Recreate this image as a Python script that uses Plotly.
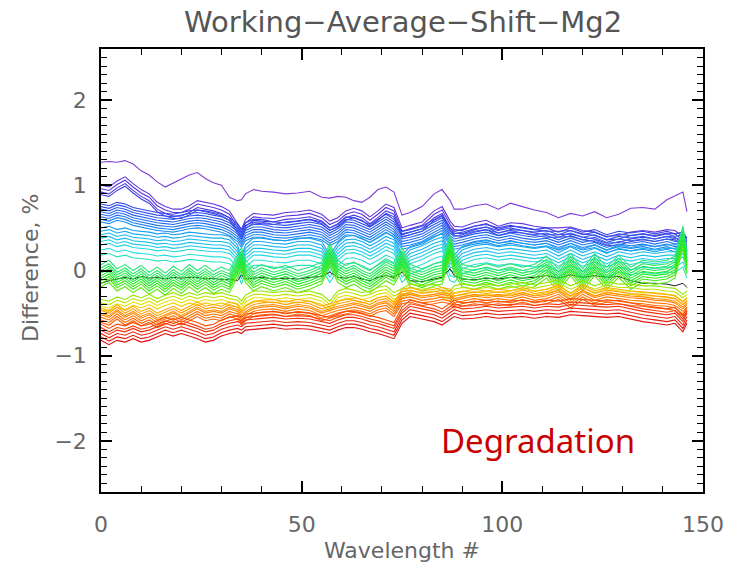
import numpy as np
import plotly.graph_objects as go
from plotly.colors import sample_colorscale

# ---- data ----
WAVE = [0, 2, 4, 6, 8, 10, 12, 14, 16, 18, 20, 22, 24, 26, 28, 30, 32, 34, 35, 36, 38, 40, 43, 46, 49,
        52, 55, 57, 59, 61, 63, 65, 67, 69, 71, 73, 75, 77, 80, 83, 85, 87, 88, 90, 93, 96, 99, 102, 105,
        108, 111, 114, 117, 120, 123, 126, 129, 132, 135, 138, 141, 143, 145, 146]

TOP = [1.27, 1.28, 1.27, 1.29, 1.25, 1.17, 1.12, 1.04, 0.98, 1.03, 1.08, 1.12, 1.15, 1.08, 1.03, 1.00,
       0.86, 0.82, 0.83, 0.90, 0.95, 0.93, 0.92, 0.90, 0.91, 0.93, 0.86, 0.85, 0.87, 0.86, 0.82, 0.80,
       0.86, 0.95, 0.98, 0.92, 0.65, 0.68, 0.75, 0.90, 0.95, 0.82, 0.72, 0.72, 0.76, 0.78, 0.72, 0.79,
       0.75, 0.71, 0.68, 0.62, 0.67, 0.64, 0.69, 0.62, 0.66, 0.73, 0.74, 0.72, 0.83, 0.88, 0.92, 0.69]

DPURPLE = [1.00, 0.98, 1.05, 1.10, 1.02, 0.95, 0.90, 0.80, 0.75, 0.72, 0.72, 0.76, 0.82, 0.80, 0.78, 0.75,
           0.70, 0.55, 0.48, 0.60, 0.67, 0.66, 0.65, 0.68, 0.69, 0.71, 0.66, 0.58, 0.62, 0.70, 0.73, 0.70,
           0.63, 0.70, 0.78, 0.74, 0.50, 0.53, 0.57, 0.70, 0.75, 0.58, 0.52, 0.51, 0.56, 0.59, 0.52, 0.56,
           0.55, 0.52, 0.50, 0.50, 0.51, 0.47, 0.45, 0.40, 0.41, 0.45, 0.47, 0.45, 0.48, 0.47, 0.40, 0.38]

BLUE = [0.68, 0.66, 0.70, 0.68, 0.64, 0.62, 0.60, 0.58, 0.57, 0.56, 0.58, 0.60, 0.61, 0.60, 0.58, 0.56,
        0.52, 0.45, 0.38, 0.46, 0.50, 0.50, 0.47, 0.46, 0.48, 0.50, 0.47, 0.40, 0.45, 0.53, 0.52, 0.48,
        0.44, 0.50, 0.56, 0.50, 0.36, 0.38, 0.42, 0.50, 0.55, 0.40, 0.36, 0.38, 0.42, 0.44, 0.40, 0.43,
        0.40, 0.38, 0.40, 0.35, 0.40, 0.35, 0.38, 0.32, 0.36, 0.34, 0.36, 0.33, 0.36, 0.33, 0.35, 0.28]

CYAN = [0.42, 0.44, 0.40, 0.42, 0.39, 0.38, 0.37, 0.35, 0.36, 0.34, 0.35, 0.37, 0.36, 0.35, 0.34, 0.34,
        0.32, 0.22, 0.08, 0.22, 0.30, 0.30, 0.28, 0.27, 0.30, 0.30, 0.26, 0.10, 0.24, 0.32, 0.33, 0.30,
        0.25, 0.30, 0.36, 0.32, 0.10, 0.20, 0.25, 0.32, 0.35, 0.12, 0.10, 0.20, 0.25, 0.27, 0.24, 0.26,
        0.24, 0.22, 0.24, 0.17, 0.24, 0.17, 0.22, 0.16, 0.22, 0.19, 0.22, 0.20, 0.22, 0.22, 0.28, 0.15]

GREEN = [-0.05, 0.00, -0.10, -0.05, -0.12, -0.06, -0.14, -0.08, -0.15, -0.07, -0.13, -0.05, -0.12, -0.06,
         -0.13, -0.08, -0.12, 0.05, 0.15, 0.00, -0.10, -0.05, -0.10, -0.06, -0.12, -0.08, -0.02, 0.20,
         0.00, -0.06, -0.02, -0.08, -0.12, -0.05, 0.02, -0.03, 0.15, -0.05, -0.10, -0.04, -0.02, 0.30,
         0.10, -0.05, -0.08, -0.04, -0.08, -0.04, -0.08, -0.05, 0.05, -0.10, 0.08, -0.10, 0.08, -0.08,
         0.06, -0.08, 0.00, -0.02, 0.00, 0.05, 0.40, 0.10]

YELLOW = [-0.38, -0.40, -0.35, -0.38, -0.33, -0.36, -0.32, -0.37, -0.33, -0.30, -0.34, -0.30, -0.33, -0.30,
          -0.32, -0.30, -0.33, -0.35, -0.40, -0.33, -0.28, -0.28, -0.30, -0.28, -0.30, -0.28, -0.32, -0.40,
          -0.28, -0.25, -0.27, -0.30, -0.28, -0.24, -0.22, -0.30, -0.25, -0.20, -0.22, -0.20, -0.24, -0.28,
          -0.22, -0.20, -0.22, -0.20, -0.22, -0.20, -0.18, -0.21, -0.18, -0.15, -0.22, -0.16, -0.22, -0.17,
          -0.20, -0.20, -0.22, -0.22, -0.24, -0.25, -0.32, -0.28]

ORANGE = [-0.52, -0.55, -0.48, -0.55, -0.50, -0.56, -0.52, -0.58, -0.54, -0.50, -0.55, -0.50, -0.45, -0.50,
          -0.48, -0.50, -0.45, -0.48, -0.55, -0.50, -0.45, -0.43, -0.42, -0.45, -0.42, -0.44, -0.50, -0.47,
          -0.44, -0.42, -0.40, -0.42, -0.45, -0.40, -0.38, -0.45, -0.30, -0.28, -0.32, -0.30, -0.28, -0.30,
          -0.35, -0.33, -0.30, -0.32, -0.30, -0.32, -0.28, -0.32, -0.30, -0.25, -0.35, -0.25, -0.32, -0.28,
          -0.30, -0.32, -0.33, -0.35, -0.36, -0.38, -0.45, -0.40]

RED = [-0.70, -0.75, -0.70, -0.72, -0.68, -0.72, -0.70, -0.66, -0.62, -0.65, -0.62, -0.65, -0.68, -0.72,
       -0.70, -0.65, -0.62, -0.60, -0.62, -0.58, -0.57, -0.56, -0.55, -0.57, -0.56, -0.57, -0.60, -0.62,
       -0.58, -0.55, -0.55, -0.57, -0.60, -0.62, -0.65, -0.68, -0.50, -0.42, -0.45, -0.48, -0.52, -0.45,
       -0.42, -0.45, -0.44, -0.42, -0.44, -0.43, -0.42, -0.44, -0.42, -0.43, -0.40, -0.41, -0.42, -0.43,
       -0.42, -0.45, -0.48, -0.50, -0.52, -0.50, -0.60, -0.50]

BLACK = [-0.15, -0.12, -0.10, -0.08, -0.10, -0.07, -0.09, -0.08, -0.10, -0.08, -0.09, -0.08, -0.08, -0.10,
         -0.09, -0.11, -0.10, -0.12, -0.05, -0.10, -0.09, -0.08, -0.10, -0.09, -0.10, -0.08, -0.07, -0.02,
         -0.08, -0.09, -0.07, -0.10, -0.12, -0.08, -0.06, -0.08, -0.02, -0.12, -0.13, -0.10, -0.08, 0.02,
         -0.06, -0.10, -0.11, -0.09, -0.10, -0.08, -0.09, -0.08, -0.06, -0.09, -0.05, -0.08, -0.06, -0.08,
         -0.07, -0.12, -0.15, -0.15, -0.16, -0.18, -0.15, -0.20]

# per-line shifts of each family of curves
TOP_OFF = [0.0]
DPURPLE_OFF = [0.0, -0.04, -0.08, -0.11]
BLUE_OFF = [0.10, 0.07, 0.04, 0.01, -0.02, -0.05, -0.08, -0.11]
CYAN_OFF = [0.08, 0.04, 0.0, -0.04, -0.08, -0.12, -0.18, -0.24]
GREEN_OFF = [0.12, 0.08, 0.05, 0.02, -0.01, -0.04, -0.07, -0.10, -0.14]
YELLOW_OFF = [0.04, 0.0, -0.04, -0.08]
ORANGE_OFF = [0.08, 0.05, 0.02, 0.0, -0.03, -0.06, -0.09]
RED_OFF = [0.07, 0.03, 0.0, -0.04, -0.08, -0.12]

X_TICKS = [0, 50, 100, 150]
Y_TICKS = [-2, -1, 0, 1, 2]
Y_TICKTEXT = ["\u22122", "\u22121", "0", "1", "2"]

for arr in (TOP, DPURPLE, BLUE, CYAN, GREEN, YELLOW, ORANGE, RED, BLACK):
    assert len(arr) == len(WAVE), len(arr)

# ---- styling ----
CSCALE = [[0.0, 'rgb(125,60,215)'], [0.08, 'rgb(85,50,225)'], [0.15, 'rgb(50,70,235)'],
          [0.25, 'rgb(30,120,240)'], [0.33, 'rgb(20,180,240)'], [0.42, 'rgb(40,225,220)'],
          [0.48, 'rgb(40,230,120)'], [0.56, 'rgb(30,235,30)'], [0.64, 'rgb(150,230,0)'],
          [0.70, 'rgb(240,225,0)'], [0.76, 'rgb(255,170,0)'], [0.85, 'rgb(255,100,0)'],
          [0.93, 'rgb(245,50,10)'], [1.0, 'rgb(225,15,15)']]

groups = [
    (TOP, TOP_OFF, (0.0, 0.0)),
    (DPURPLE, DPURPLE_OFF, (0.05, 0.12)),
    (BLUE, BLUE_OFF, (0.15, 0.28)),
    (CYAN, CYAN_OFF, (0.30, 0.44)),
    ('BLACK', None, None),
    (GREEN, GREEN_OFF, (0.48, 0.60)),
    (YELLOW, YELLOW_OFF, (0.64, 0.72)),
    (ORANGE, ORANGE_OFF, (0.76, 0.86)),
    (RED, RED_OFF, (0.89, 1.0)),
]

fig = go.Figure()
for prof, offs, prange in groups:
    if isinstance(prof, str):
        fig.add_trace(go.Scatter(x=WAVE, y=BLACK, mode='lines',
                                 line=dict(color='rgb(30,30,30)', width=1), showlegend=False))
        continue
    pos = np.linspace(prange[0], prange[1], len(offs)) if len(offs) > 1 else [prange[0]]
    cols = sample_colorscale(CSCALE, list(pos))
    for off, c in zip(offs, cols):
        fig.add_trace(go.Scatter(x=WAVE, y=[v + off for v in prof], mode='lines',
                                 line=dict(color=c, width=1.1), showlegend=False))

FONT = 'DejaVu Sans'
TICKFONT = dict(family=FONT, size=22, color='#666666')
axis_common = dict(showline=True, linecolor='black', linewidth=1.5, mirror='allticks',
                   ticks='inside', tickcolor='black', tickwidth=1.5, ticklen=11,
                   showgrid=False, zeroline=False, tickfont=TICKFONT, automargin=False)

fig.update_xaxes(range=[0, 150], tickvals=X_TICKS, ticklabelstandoff=12,
                 minor=dict(ticks='inside', dtick=10, tick0=0, ticklen=6, tickwidth=1.3,
                            tickcolor='black', showgrid=False),
                 **axis_common)
fig.update_yaxes(range=[-2.6, 2.6], tickvals=Y_TICKS, ticktext=Y_TICKTEXT, ticklabelstandoff=8,
                 minor=dict(ticks='inside', dtick=0.1, tick0=0, ticklen=6, tickwidth=1.3,
                            tickcolor='black', showgrid=False),
                 **axis_common)

fig.update_layout(
    width=729, height=566,
    margin=dict(l=101, r=26, t=49, b=74),
    paper_bgcolor='white', plot_bgcolor='white',
    title=dict(text='Working\u2212Average\u2212Shift\u2212Mg2', x=0.553, xanchor='center',
               y=1 - 22 / 566, yanchor='middle',
               font=dict(family=FONT, size=29, color='#555555')),
    annotations=[
        dict(text='Wavelength #', xref='paper', yref='paper', x=0.5, y=(492 - 550) / 443,
             xanchor='center', yanchor='middle', showarrow=False,
             font=dict(family=FONT, size=22, color='#666666')),
        dict(text='Difference, %', xref='paper', yref='paper', x=(30 - 101) / 602,
             y=(492 - 268) / 443, textangle=-90, xanchor='center', yanchor='middle', showarrow=False,
             font=dict(family=FONT, size=22, color='#666666')),
        dict(text='Degradation', xref='x', yref='y', x=109, y=-2.0, xanchor='center',
             yanchor='middle', showarrow=False,
             font=dict(family='Noto Sans', size=33, color='#c80000')),
    ],
)

fig.write_html('out.html')
